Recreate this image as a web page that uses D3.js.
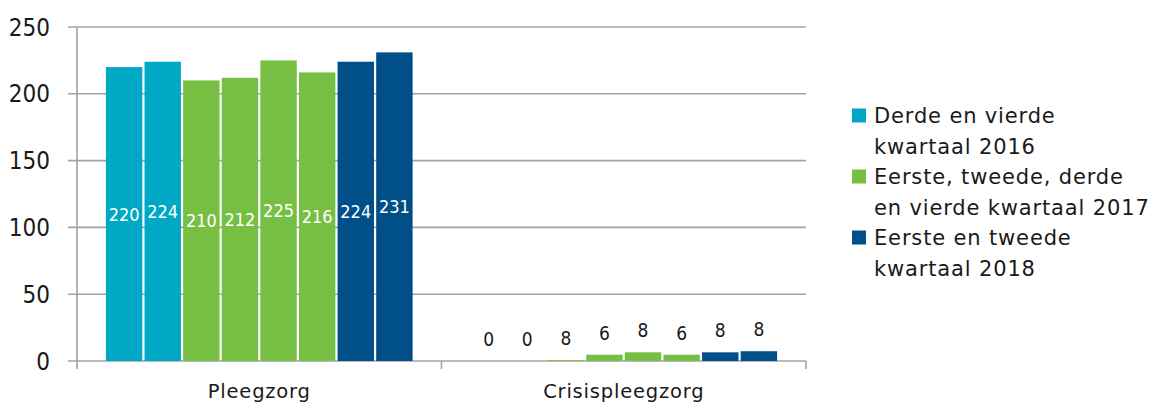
<!DOCTYPE html>
<html><head><meta charset="utf-8">
<script src="https://cdn.jsdelivr.net/npm/d3@7"></script>
<style>body{margin:0;background:#fff} svg{display:block}</style>
</head><body><svg id="c" width="1154" height="405"></svg>
<script>
const categories = ["Pleegzorg", "Crisispleegzorg"];
const periods = ["Q3 2016", "Q4 2016", "Q1 2017", "Q2 2017", "Q3 2017", "Q4 2017", "Q1 2018", "Q2 2018"];
const periodGroup = [0, 0, 1, 1, 1, 1, 2, 2];
const pleegzorgValues = [220, 224, 210, 212, 225, 216, 224, 231];
const crisisValues = [0, 0, 0.5, 4.7, 6.5, 4.7, 6.5, 7.3];
const pleegzorgLabels = ["220", "224", "210", "212", "225", "216", "224", "231"];
const crisisLabels = ["0", "0", "8", "6", "8", "6", "8", "8"];
const yTicks = [0, 50, 100, 150, 200, 250];
const legendLabels = [["Derde en vierde", "kwartaal 2016"], ["Eerste, tweede, derde", "en vierde kwartaal 2017"], ["Eerste en tweede", "kwartaal 2018"]];
const groupColors = ["#00a8c6", "#77bf43", "#004f88"];

const seriesByCat = {Pleegzorg: pleegzorgValues, Crisispleegzorg: crisisValues};
const labelsByCat = {Pleegzorg: pleegzorgLabels, Crisispleegzorg: crisisLabels};

const svg = d3.select("#c");
const numFont = "'DejaVu Sans Condensed','DejaVu Sans',sans-serif";
const txtFont = "'DejaVu Sans',sans-serif";
const gridCol = "#a3a3a3";

const y = d3.scaleLinear().domain([0, 250]).range([361, 27]);
const x0 = d3.scaleBand().domain(categories).range([77, 806]);
const x1 = d3.scaleBand().domain(d3.range(periods.length)).range([0, x0.bandwidth()]).paddingOuter(0.72).paddingInner(0);

// gridlines
svg.append("g").selectAll("line").data(yTicks).join("line")
  .attr("x1", 68).attr("x2", 806)
  .attr("y1", d => y(d)).attr("y2", d => y(d))
  .attr("stroke", gridCol).attr("stroke-width", 1.6);

// y axis line
svg.append("line").attr("x1", 77).attr("x2", 77).attr("y1", y(250)).attr("y2", 369)
  .attr("stroke", gridCol).attr("stroke-width", 1.6);
// bottom ticks at category boundaries
const bounds = [x0(categories[0]), x0(categories[1]), x0(categories[1]) + x0.bandwidth()];
svg.append("g").selectAll("line").data(bounds.slice(1)).join("line")
  .attr("x1", d => d).attr("x2", d => d).attr("y1", y(0)).attr("y2", 369)
  .attr("stroke", gridCol).attr("stroke-width", 1.6);

// y tick labels
svg.append("g").selectAll("text").data(yTicks).join("text")
  .attr("x", 50).attr("y", d => y(d)).attr("dy", "0.36em")
  .attr("text-anchor", "end")
  .style("font-family", numFont).style("font-size", "24px").attr("fill", "#1a1a1a")
  .text(d => d);

// bars
categories.forEach(cat => {
  const vals = seriesByCat[cat];
  const labs = labelsByCat[cat];
  const g = svg.append("g").attr("transform", `translate(${x0(cat)},0)`);
  g.selectAll("rect").data(vals).join("rect")
    .attr("x", (d, i) => x1(i) + 1.1)
    .attr("width", x1.bandwidth() - 2.2)
    .attr("y", d => y(d))
    .attr("height", d => y(0) - y(d))
    .attr("fill", (d, i) => groupColors[periodGroup[i]]);
  if (cat === "Pleegzorg") {
    g.selectAll("text").data(vals).join("text")
      .attr("x", (d, i) => x1(i) + x1.bandwidth() / 2)
      .attr("y", d => (y(d) + y(0)) / 2).attr("dy", "0.36em")
      .attr("text-anchor", "middle")
      .style("font-family", numFont).style("font-size", "18px").attr("fill", "#fff")
      .text((d, i) => labs[i]);
  } else {
    g.selectAll("text").data(vals).join("text")
      .attr("x", (d, i) => x1(i) + x1.bandwidth() / 2)
      .attr("y", d => y(d) - 22).attr("dy", "0.36em")
      .attr("text-anchor", "middle")
      .style("font-family", numFont).style("font-size", "19px").attr("fill", "#1a1a1a")
      .text((d, i) => labs[i]);
  }
});

// category labels
svg.append("g").selectAll("text").data(categories).join("text")
  .attr("x", d => x0(d) + x0.bandwidth() / 2).attr("y", 398)
  .attr("text-anchor", "middle")
  .style("font-family", txtFont).style("font-size", "19.5px").style("letter-spacing", "0.8px")
  .attr("fill", "#1a1a1a")
  .text(d => d);

// legend
const lg = svg.append("g");
let line = 0;
legendLabels.forEach((lines, k) => {
  const cy = 115.5 + 30.5 * line;
  lg.append("rect").attr("x", 852).attr("y", cy - 7).attr("width", 14).attr("height", 14)
    .attr("fill", groupColors[k]);
  lines.forEach(t => {
    lg.append("text").attr("x", 874).attr("y", 115.5 + 30.5 * line + 7.5)
      .style("font-family", txtFont).style("font-size", "21px").style("letter-spacing", "0.85px")
      .attr("fill", "#1a1a1a").text(t);
    line++;
  });
});
</script></body></html>
